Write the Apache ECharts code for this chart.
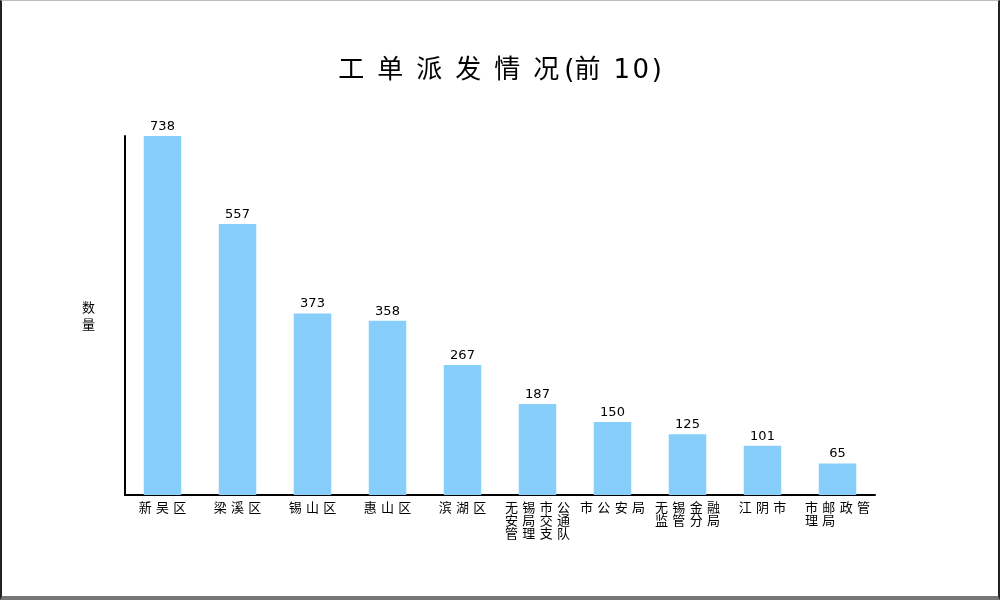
<!DOCTYPE html>
<html lang="zh">
<head>
  <meta charset="UTF-8">
  <title>工单派发情况</title>
  <script src="https://cdn.jsdelivr.net/npm/echarts@6/dist/echarts.min.js"></script>
  <style>
    html, body { margin: 0; padding: 0; background: #fff; }
    #main {
      width: 996px; height: 595px; background: #fff;
      border-left: 2px solid #222; border-right: 2px solid #222;
      border-top: 1px solid #bbb; border-bottom: 4px solid #777;
    }
  </style>
</head>
<body>
<div id="main"></div>
<script>
  var titleText = '工单派发情况(前10)';
  var categories = ['新吴区', '梁溪区', '锡山区', '惠山区', '滨湖区', '无锡市公安局交通管理支队', '市公安局', '无锡金融监管分局', '江阴市', '市邮政管理局'];
  var values = [738, 557, 373, 358, 267, 187, 150, 125, 101, 65];

  // spread characters out a little, the reference uses wide letter spacing
  function spread(s, gap) {
    return s.split('').join(gap);
  }

  // wide gaps between CJK chars, narrow ones around the latin bits
  function spreadTitle(s) {
    var cjk = /[\u4e00-\u9fff]/;
    var out = '';
    for (var i = 0; i < s.length; i++) {
      var c = s[i], next = s[i + 1];
      out += c;
      if (!next) break;
      if (cjk.test(c) && (cjk.test(next) || /[0-9]/.test(next))) out += '\u2002';
      else if (cjk.test(c) && next === '(') out += '\u2009';
      else if (/[0-9]/.test(c)) out += '\u200A';
    }
    return out;
  }

  // wrap every 4 chars, pad short lines so they sit flush left
  function wrapLabel(s) {
    if (s.length <= 4) return spread(s, '\u2004');
    var lines = [];
    for (var i = 0; i < s.length; i += 4) {
      var part = s.substr(i, 4);
      while (part.length < 4) part += '\u3000';
      lines.push(spread(part, '\u2004'));
    }
    return lines.join('\n');
  }

  var chart = echarts.init(document.getElementById('main'));

  var option = {
    backgroundColor: '#fff',
    title: {
      text: spreadTitle(titleText),
      left: 'center',
      top: 52,
      textStyle: {
        color: '#000',
        fontSize: 26,
        fontWeight: 'normal',
        fontFamily: 'DejaVu Sans, Noto Sans CJK SC'
      }
    },
    grid: {
      left: 123,
      right: 123,
      top: 135,
      bottom: 101
    },
    xAxis: {
      type: 'category',
      data: categories,
      axisLine: { lineStyle: { color: '#000', width: 2 } },
      axisTick: { show: false },
      axisLabel: {
        interval: 0,
        color: '#000',
        fontSize: 13,
        lineHeight: 13,
        margin: 6,
        fontFamily: 'Noto Sans CJK SC',
        formatter: wrapLabel
      }
    },
    yAxis: {
      type: 'value',
      min: 0,
      max: 'dataMax',
      name: '数\n量',
      nameLocation: 'middle',
      nameRotate: 0,
      nameGap: 30,
      nameTextStyle: {
        color: '#000',
        fontSize: 13,
        lineHeight: 17,
        fontFamily: 'Noto Sans CJK SC'
      },
      axisLine: { show: true, lineStyle: { color: '#000', width: 2 } },
      axisTick: { show: false },
      axisLabel: { show: false },
      splitLine: { show: false }
    },
    series: [
      {
        type: 'bar',
        data: values,
        barWidth: '50%',
        itemStyle: { color: '#87cefa' },
        label: {
          show: true,
          position: 'top',
          distance: 3,
          color: '#000',
          fontSize: 13,
          fontFamily: 'DejaVu Sans'
        },
        animation: false
      }
    ]
  };

  chart.setOption(option);
</script>
</body>
</html>
